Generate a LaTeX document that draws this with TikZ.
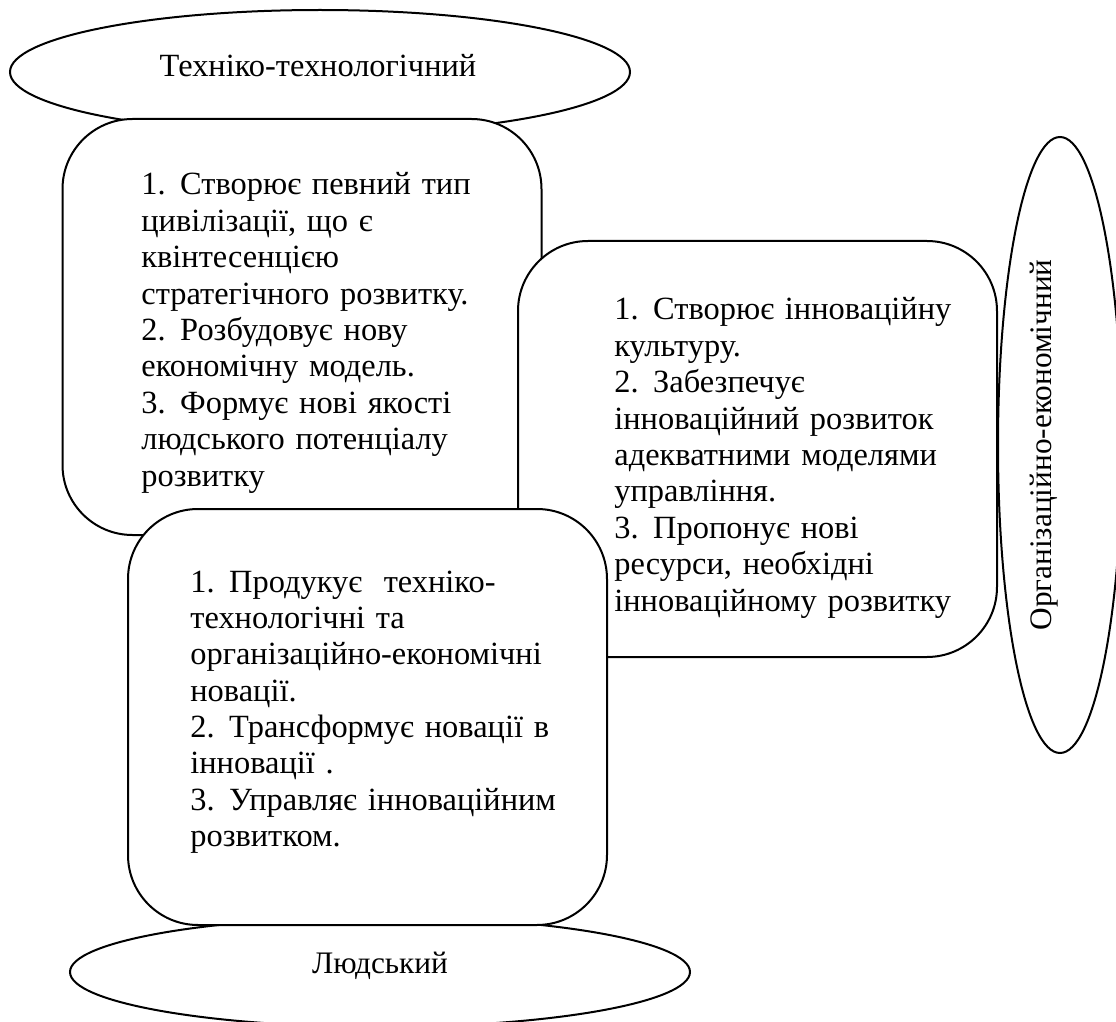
\documentclass[tikz,border=0pt]{standalone}
\usepackage{fontspec}
\setmainfont{Liberation Serif}
\usetikzlibrary{shapes.geometric}

\begin{document}
\begin{tikzpicture}[x=0.5pt,y=-0.5pt,
  every node/.style={font=\fontsize{15.65pt}{18pt}\selectfont},
  oval/.style={draw, ellipse, line width=1pt, inner sep=0pt},
  card/.style={draw, fill=white, line width=1pt, rectangle, rounded corners=35pt,
    minimum width=239.5pt, minimum height=208pt, inner sep=0pt},
  cardtext/.style={anchor=base west, inner sep=0pt, text width=215pt, align=left,
    font=\fontsize{16.2pt}{18.2pt}\selectfont},
  label/.style={inner sep=0pt}]
  \useasboundingbox (0,0) rectangle (1116,1022);

  % three domains
  \node[oval, minimum width=310pt, minimum height=62pt] (tech) at (320,72) {};
  \node[oval, minimum width=310pt, minimum height=55pt] (human) at (380,972) {};
  \node[oval, minimum width=62pt, minimum height=308pt] (org) at (1060,445) {};

  \node[label, font=\fontsize{16.2pt}{18pt}\selectfont] (techlbl) at (318,66) {Техніко-технологічний};
  \node[label] (humanlbl) at (380,966) {Людський};
  \node[label, rotate=90] (orglbl) at (1044,445) {Організаційно-економічний};

  % function cards
  \node[card] (c1) at (302,327) {};
  \node[card] (c2) at (757.5,449) {};
  \node[card] (c3) at (367.5,717) {};

  \node[cardtext] (t1) at (141,195) {1.\kern0.45em Створює певний тип\\
    цивілізації, що є\\
    квінтесенцією\\
    стратегічного розвитку.\\
    2.\kern0.45em Розбудовує нову\\
    економічну модель.\\
    3.\kern0.45em Формує нові якості\\
    людського потенціалу\\
    розвитку};

  \node[cardtext] (t2) at (614,320) {1.\kern0.45em Створює інноваційну\\
    культуру.\\
    2.\kern0.45em Забезпечує\\
    інноваційний розвиток\\
    адекватними моделями\\
    управління.\\
    3.\kern0.45em Пропонує нові\\
    ресурси, необхідні\\
    інноваційному розвитку};

  \node[cardtext] (t3) at (190,592) {1.\kern0.45em Продукує\ \ техніко-\\
    технологічні та\\
    організаційно-економічні\\
    новації.\\
    2.\kern0.45em Трансформує новації в\\
    інновації .\\
    3.\kern0.45em Управляє інноваційним\\
    розвитком.};
\end{tikzpicture}
\end{document}
